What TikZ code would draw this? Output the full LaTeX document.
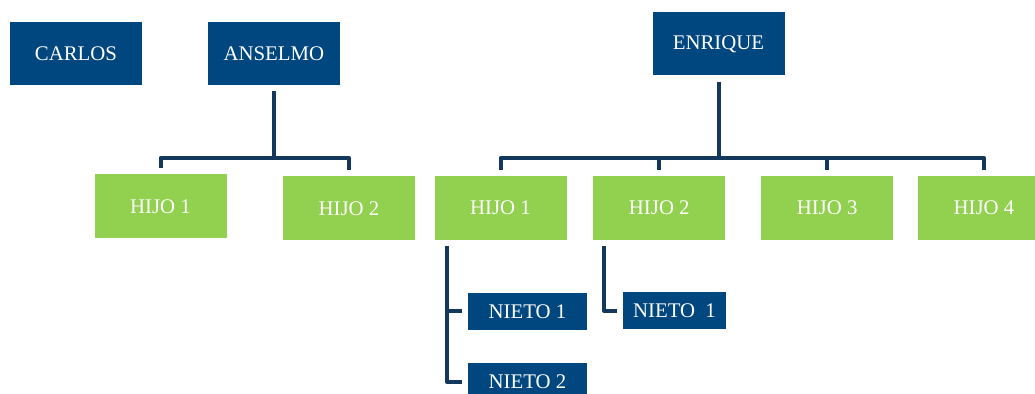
\documentclass[tikz,border=0pt]{standalone}
\usepackage{fontspec}
\setmainfont{Liberation Serif}
\usetikzlibrary{positioning,calc}
\definecolor{boxnavy}{RGB}{0,70,127}
\definecolor{leafgreen}{RGB}{146,208,80}
\definecolor{linknavy}{RGB}{20,55,92}

\begin{document}
\begin{tikzpicture}[x=0.5pt, y=0.5pt, font=\fontsize{10.4}{12}\selectfont,
      parent/.style={fill=boxnavy, text=white, inner sep=0pt,
                     minimum width=66pt, minimum height=31.5pt},
      child/.style={fill=leafgreen, text=white, inner sep=0pt,
                    minimum width=66pt, minimum height=32pt},
      grand/.style={fill=boxnavy, text=white, inner sep=0pt,
                    minimum width=59.5pt, minimum height=18.5pt},
      link/.style={draw=linknavy, line width=2pt, line join=round,
                   shorten <=3pt, shorten >=3pt}
    ]
    \clip (0,0) rectangle (1035,-394);

    % padres
    \node[parent] (carlos) at (76,-53.5) {CARLOS};
    \node[parent, right=32.5pt of carlos] (anselmo) {ANSELMO};
    \node[parent] (enrique) at (718.5,-44) {ENRIQUE};

    % hijos de Anselmo
    \node[child] (ah1) at (160.5,-206.5) {HIJO 1};
    \node[child] (ah2) at (349,-208.5) {HIJO 2};

    % hijos de Enrique
    \node[child] (eh1) at (500.5,-208) {HIJO 1};
    \node[child, right=13pt of eh1] (eh2) {HIJO 2};
    \node[child, right=17.5pt of eh2] (eh3) {HIJO 3};
    \node[child, right=12pt of eh3] (eh4) {HIJO 4};

    % nietos
    \node[grand] (n11) at (527.5,-311.5) {NIETO 1};
    \node[grand] (n12) at (527.5,-382) {NIETO 2};
    \node[grand, minimum width=51.5pt] (n21) at (674.5,-311) {NIETO\ \ 1};

    \coordinate (abar) at (0,-158);
    \coordinate (ebar) at (0,-158);
    \coordinate (nbus1) at (447,0);
    \coordinate (nbus2) at (604,0);

    \draw[link] (anselmo.south) -- (anselmo.south |- abar) -| (ah1.north);
    \draw[link] (anselmo.south) -- (anselmo.south |- abar) -| (ah2.north);
    \foreach \h in {eh1,eh2,eh3,eh4}
      \draw[link] (enrique.south) -- (enrique.south |- ebar) -| (\h.north);

    \draw[link] (eh1.south -| nbus1) |- (n11.west);
    \draw[link] (eh1.south -| nbus1) |- (n12.west);
    \draw[link] (eh2.south -| nbus2) |- (n21.west);
  \end{tikzpicture}
\end{document}
